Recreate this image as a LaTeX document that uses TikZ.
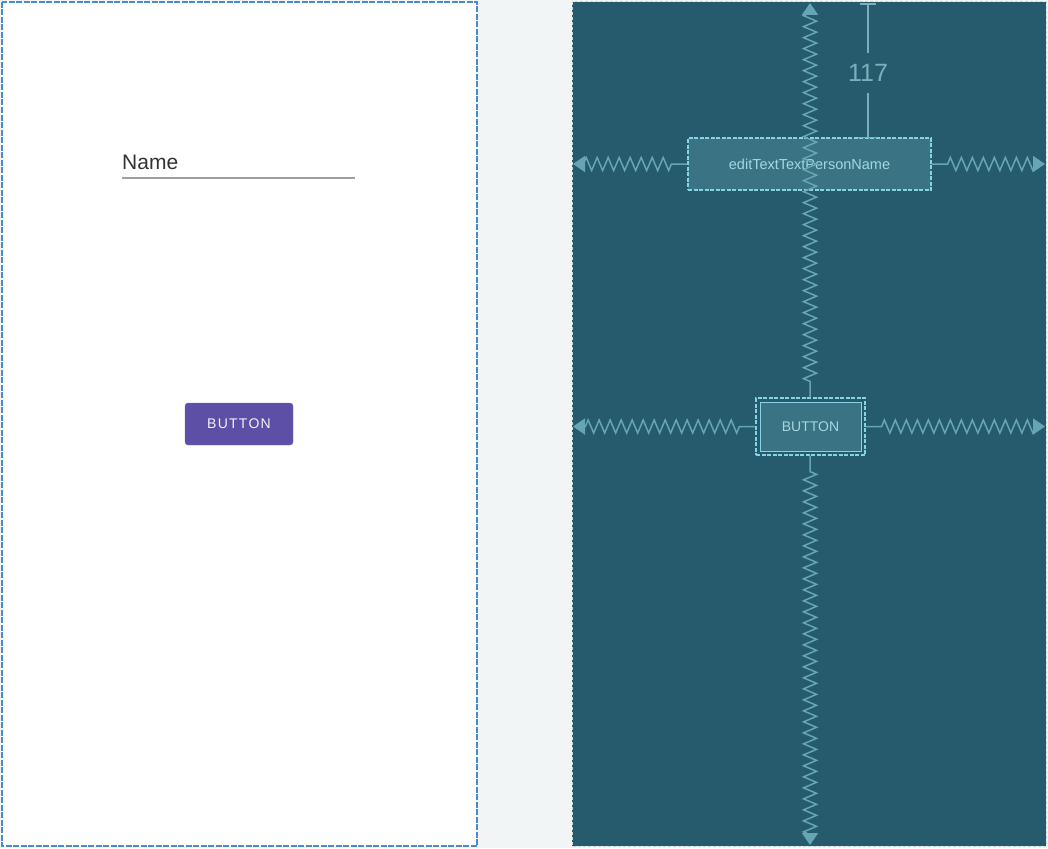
\documentclass[tikz,border=0pt]{standalone}
\usepackage{fontspec}
\setmainfont{Liberation Sans}
\newfontfamily\btnfont[LetterSpace=9]{Liberation Sans}
\usetikzlibrary{arrows.meta,decorations.pathmorphing}

\definecolor{canvasbg}{HTML}{F2F5F5}
\definecolor{frameblue}{HTML}{4A88D0}
\definecolor{blueprint}{HTML}{265B6E}
\definecolor{blueframe}{HTML}{C9D9DD}
\definecolor{boxfill}{HTML}{3A7484}
\definecolor{boxline}{HTML}{86D3E6}
\definecolor{boxtext}{HTML}{A3D6E2}
\definecolor{springcol}{HTML}{66A5B3}
\definecolor{dimcol}{HTML}{7CAEBB}
\definecolor{btnpurple}{HTML}{5E4FA6}

\begin{document}
\begin{tikzpicture}[
    x=1pt,
    y=-1pt,
    screen/.style={
        draw=frameblue,
        line width=1.5pt,
        dash pattern=on 6pt off 1.5pt,
        fill=white
    },
    blueprintpanel/.style={
        draw=blueframe,
        line width=1pt,
        dash pattern=on 3pt off 2pt,
        fill=blueprint
    },
    widget/.style={
        draw=boxline,
        line width=1.2pt,
        dash pattern=on 4pt off 1.5pt,
        fill=boxfill,
        text=boxtext,
        inner sep=0pt
    },
    spring/.style={
        draw=springcol,
        line width=1.5pt,
        decorate,
        decoration={zigzag, segment length=11pt, amplitude=6.5pt,
            pre length=16pt, post length=8pt},
        -{Triangle[width=16pt,length=12pt]}
    },
    dimline/.style={
        draw=dimcol,
        line width=1.4pt
    }
]

% =====================
% Fondo y paneles
% =====================
\useasboundingbox (0,0) rectangle (1048,848);
\fill[canvasbg] (0,0) rectangle (1048,848);
\path[screen] (2,2) rectangle (477,846);
\path[blueprintpanel] (572,2) rectangle (1046,846);

% =====================
% Vista de diseno
% =====================
\node[anchor=base west, inner sep=0pt, font=\fontsize{21}{24}\selectfont,
    text=black!80] (nameField) at (122,169) {Name};
\coordinate (nameLineEnd) at (355,178);
\draw[draw=black!38, line width=1.3pt] (nameField.base west |- nameLineEnd)
    -- (nameLineEnd);

\node[fill=btnpurple, draw=btnpurple!80!white, rounded corners=3pt,
    minimum width=108pt, minimum height=42pt, inner sep=0pt,
    text=white!92!btnpurple, font=\btnfont\fontsize{14}{16}\selectfont]
    (leftButton) at (239,424) {BUTTON};

% =====================
% Vista blueprint
% =====================
\node[widget, minimum width=243pt, minimum height=52pt,
    font=\fontsize{14.5}{16}\selectfont]
    (editBox) at (809.5,164) {editTextTextPersonName};

\node[widget, fill=none, minimum width=109pt, minimum height=57pt]
    (btnFrame) at (810.5,426.5) {};
\node[widget, dash pattern=, line width=1pt, minimum width=101pt,
    minimum height=49pt, font=\fontsize{14}{16}\selectfont]
    (btnBox) at (810.5,426.5) {BUTTON};

\coordinate (topEdge) at (810,3);
\coordinate (bottomEdge) at (810,845);
\coordinate (leftEdgeA) at (573,164);
\coordinate (rightEdgeA) at (1045,164);
\coordinate (leftEdgeB) at (573,426.5);
\coordinate (rightEdgeB) at (1045,426.5);

% resortes
\draw[spring] (editBox.west) -- (leftEdgeA);
\draw[spring] (editBox.east) -- (rightEdgeA);
\draw[spring] (btnFrame.west) -- (leftEdgeB);
\draw[spring] (btnFrame.east) -- (rightEdgeB);
\draw[spring] (btnFrame.north -| topEdge) -- (topEdge);
\draw[spring] (btnFrame.south -| bottomEdge) -- (bottomEdge);

% margen superior
\node[text=dimcol, font=\fontsize{25}{28}\selectfont, inner sep=0pt,
    minimum height=40pt] (dimLabel) at (868,73) {117};
\coordinate (dimTop) at (868,4);
\draw[dimline] (dimTop) -- (dimLabel.north);
\draw[dimline] (dimLabel.south) -- (editBox.north -| dimLabel);
\draw[dimline] ([xshift=-8pt]dimTop) -- ([xshift=8pt]dimTop);
\draw[dimline] ([xshift=-10pt]editBox.north -| dimLabel)
    -- ([xshift=10pt]editBox.north -| dimLabel);

\end{tikzpicture}
\end{document}
